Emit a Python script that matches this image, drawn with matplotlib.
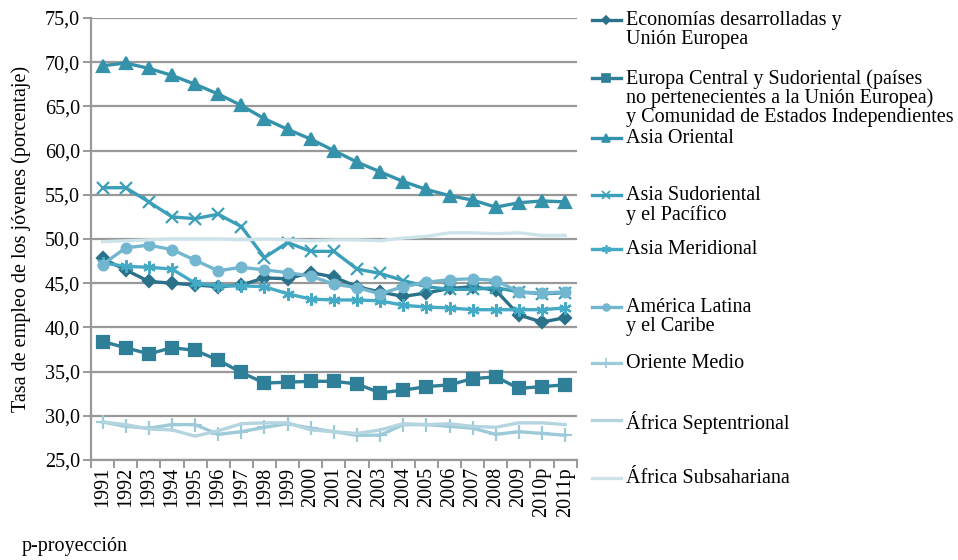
from matplotlib import pyplot as plt
from matplotlib.lines import Line2D
import numpy as np


plt.switch_backend('agg')
plt.rcParams['font.family'] = ['Liberation Serif', 'DejaVu Serif']

years = ['1991', '1992', '1993', '1994', '1995', '1996', '1997', '1998', '1999', '2000',
         '2001', '2002', '2003', '2004', '2005', '2006', '2007', '2008', '2009', '2010p', '2011p']

economias = [47.8, 46.5, 45.2, 45.0, 44.8, 44.6, 44.8, 45.6, 45.5, 46.2,
             45.7, 44.6, 44.0, 43.5, 43.9, 44.4, 44.6, 44.2, 41.4, 40.6, 41.1]
europa_central = [38.4, 37.7, 37.0, 37.7, 37.4, 36.3, 34.9, 33.7, 33.8, 33.9,
                  33.9, 33.6, 32.6, 32.9, 33.3, 33.5, 34.2, 34.4, 33.1, 33.3, 33.5]
asia_oriental = [69.6, 69.9, 69.3, 68.5, 67.5, 66.4, 65.1, 63.6, 62.4, 61.3,
                 60.0, 58.7, 57.6, 56.5, 55.6, 54.9, 54.4, 53.6, 54.1, 54.3, 54.2]
asia_sudoriental = [55.8, 55.8, 54.2, 52.5, 52.3, 52.8, 51.4, 47.9, 49.6, 48.6,
                    48.6, 46.6, 46.1, 45.3, 44.6, 44.3, 44.3, 44.5, 44.0, 43.8, 43.9]
asia_meridional = [47.3, 46.9, 46.8, 46.6, 45.0, 44.7, 44.7, 44.6, 43.8, 43.2,
                   43.1, 43.1, 43.0, 42.5, 42.3, 42.2, 42.0, 42.0, 42.0, 42.0, 42.2]
america_latina = [47.1, 49.0, 49.3, 48.8, 47.6, 46.4, 46.8, 46.5, 46.2, 45.8,
                  44.9, 44.5, 43.8, 44.6, 45.1, 45.4, 45.5, 45.3, 44.0, 43.9, 44.0]
oriente_medio = [29.3, 28.8, 28.6, 29.0, 29.0, 27.9, 28.2, 28.7, 29.1, 28.6,
                 28.2, 27.8, 27.8, 29.0, 29.0, 28.8, 28.6, 27.9, 28.2, 28.0, 27.8]
africa_sept = [29.3, 29.0, 28.5, 28.4, 27.7, 28.3, 29.1, 29.2, 29.2, 28.4,
               28.2, 28.0, 28.4, 29.1, 29.0, 29.1, 28.8, 28.7, 29.2, 29.2, 29.0]
africa_subs = [49.7, 49.8, 49.9, 50.0, 50.0, 50.0, 49.9, 50.0, 49.9, 49.8,
               49.9, 49.9, 49.8, 50.1, 50.3, 50.7, 50.7, 50.6, 50.7, 50.4, 50.4]

labels = [
    'Economías desarrolladas y\nUnión Europea',
    'Europa Central y Sudoriental (países\nno pertenecientes a la Unión Europea)\ny Comunidad de Estados Independientes',
    'Asia Oriental',
    'Asia Sudoriental\ny el Pacífico',
    'Asia Meridional',
    'América Latina\ny el Caribe',
    'Oriente Medio',
    'África Septentrional',
    'África Subsahariana',
]
series = [economias, europa_central, asia_oriental, asia_sudoriental, asia_meridional,
          america_latina, oriente_medio, africa_sept, africa_subs]
colors = ['#2a7189', '#2e7f97', '#3592ab', '#3c9fb9', '#45aac6',
          '#72b7cf', '#9dcad9', '#b4d5e0', '#cde3ea']
markers = ['D', 's', '^', 'x', (6, 2, 0), 'o', '+', None, None]
msizes = [6, 8, 8, 9, 9, 7, 10, 0, 0]

# legend rows (pixels from top of the figure)
legend_rows = [20, 78, 138, 195, 249, 307, 363, 420, 478]

FS = 14.5

fig = plt.figure(figsize=(9.58, 5.6), dpi=100)
ax = fig.add_axes([0.095, 0.1786, 0.507, 0.7893])

x = np.arange(len(years))
for vals, col, mk, ms in zip(series, colors, markers, msizes):
    ax.plot(x, vals, color=col, lw=2.4, marker=mk, markersize=ms,
            markeredgewidth=1.6, markeredgecolor=col, markerfacecolor=col)

ax.set_xlim(-0.5, len(years) - 0.5)
ax.set_ylim(25, 75)
yt = np.arange(25, 76, 5)
ax.set_yticks(yt)
ax.set_yticklabels([('%.1f' % v).replace('.', ',') for v in yt])
ax.yaxis.grid(True, color='#999999', lw=1.6)
ax.set_axisbelow(True)
ax.set_xticks(x)
ax.set_xticklabels(years, rotation=90)
ax.set_xticks(np.arange(-0.5, len(years)), minor=True)
ax.tick_params(axis='x', which='major', length=0, pad=5, labelsize=FS)
ax.tick_params(axis='x', which='minor', length=6, color='#888888', width=1.2)
ax.tick_params(axis='y', length=6, color='#888888', width=1.2, labelsize=FS, pad=2)
for side in ['top', 'right']:
    ax.spines[side].set_visible(False)
for side in ['left', 'bottom']:
    ax.spines[side].set_color('#999999')
    ax.spines[side].set_linewidth(1.6)

ax.set_ylabel('Tasa de empleo de los jóvenes (porcentaje)', fontsize=FS, labelpad=10)

# legend entries placed individually, as in the original layout
for row, lab, col, mk, ms in zip(legend_rows, labels, colors, markers, msizes):
    yy = 1 - row / 560
    fig.add_artist(Line2D([0.618, 0.648], [yy, yy], transform=fig.transFigure,
                          color=col, lw=2.4))
    if mk is not None:
        fig.add_artist(Line2D([0.633], [yy], transform=fig.transFigure, color=col,
                              marker=mk, markersize=ms * 0.7, markeredgewidth=1.2))
    fig.text(0.653, yy + 0.016, lab, fontsize=FS, va='top', ha='left', linespacing=0.98)

fig.text(0.023, 0.016, 'p-proyección', fontsize=FS, va='baseline')

fig.savefig('out.png', dpi=100)
